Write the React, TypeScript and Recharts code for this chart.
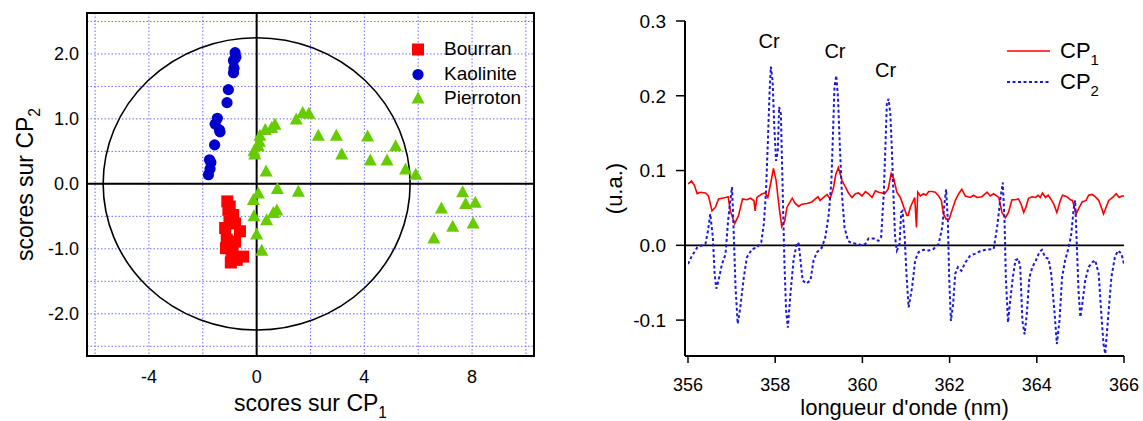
import React from 'react';
import {
  ScatterChart, Scatter, LineChart, Line, XAxis, YAxis, CartesianGrid,
  ReferenceLine, ReferenceArea, ReferenceDot, Legend,
} from 'recharts';

const FONT = 'Arial, "Liberation Sans", Helvetica, sans-serif';
const RED = '#ff0000';
const BLUE = '#0000cc';
const GREEN = '#66cc00';
const DASH_BLUE = '#1a1ad8';

// ---- scores plot (CP1 vs CP2) ----
const bourranCP1 = [-1.09, -1.05, -1.01, -0.80, -0.62, -1.11, -0.99, -0.80, -0.93, -0.50, -0.74, -0.96, -1.17, -1.14, -0.87, -1.00, -0.90];
const bourranCP2 = [-0.27, -0.40, -0.58, -0.61, -0.73, -0.86, -0.96, -0.89, -1.12, -1.12, -1.17, -1.21, -0.68, -0.99, -0.48, -0.35, -1.05];

const kaoliniteCP1 = [-0.80, -0.77, -0.86, -0.84, -0.86, -1.05, -1.10, -1.46, -1.54, -1.38, -1.36, -1.56, -1.75, -1.70, -1.73, -1.79];
const kaoliniteCP2 = [2.02, 1.95, 1.90, 1.78, 1.71, 1.45, 1.25, 1.01, 0.92, 0.83, 0.80, 0.60, 0.37, 0.33, 0.23, 0.14];

const pierrotonCP1 = [1.71, 1.94, 1.47, 0.68, 0.56, 0.32, 0.12, 0.10, 0.06, -0.10, -0.07, 2.29, 2.96, 4.12, 5.16, 3.16, 4.22, 4.84, 5.53, 5.91, 0.35, 0.77, 1.55, 0.06, -0.12, 0.75, 0.62, -0.10, 0.37, 0.00, 0.19, 7.65, 7.76, 8.12, 6.86, 7.28, 8.04, 6.58];
const pierrotonCP2 = [1.09, 1.08, 0.99, 0.91, 0.86, 0.83, 0.74, 0.65, 0.58, 0.50, 0.45, 0.74, 0.74, 0.73, 0.58, 0.45, 0.36, 0.36, 0.22, 0.14, 0.19, -0.08, -0.12, -0.15, -0.25, -0.41, -0.45, -0.50, -0.56, -0.78, -1.03, -0.13, -0.31, -0.29, -0.38, -0.66, -0.61, -0.84];

const scoreXDomain = [-6.3, 10.3];
const scoreYDomain = [-2.65, 2.63];
const scoreXTicks = [-4, 0, 4, 8];
const scoreYTicks = [-2, -1, 0, 1, 2];
const scoreGridX = [-6, -4, -2, 0, 2, 4, 6, 8, 10];
const scoreGridY = [-2.5, -2, -1.5, -1, -0.5, 0, 0.5, 1, 1.5, 2, 2.5];
const circleCP1 = 5.7;
const circleCP2 = 2.25;

// ---- loadings spectra ----
const cp1Wavelength = [
  356.00, 356.08, 356.15, 356.21, 356.28, 356.40, 356.47, 356.55, 356.63, 356.70, 356.78, 356.86, 356.92, 356.97,
  357.07, 357.16, 357.25, 357.35, 357.43, 357.51, 357.54, 357.58, 357.70, 357.77, 357.83, 357.91, 357.96, 358.02,
  358.09, 358.15, 358.22, 358.27, 358.39, 358.46, 358.54, 358.61, 358.73, 358.84, 358.92, 358.98, 359.03, 359.11,
  359.19, 359.26, 359.34, 359.39, 359.45, 359.53, 359.61, 359.68, 359.76, 359.84, 359.91, 359.99, 360.07, 360.14,
  360.22, 360.30, 360.37, 360.45, 360.51, 360.59, 360.66, 360.72, 360.79, 360.87, 360.95, 361.02, 361.05, 361.10,
  361.20, 361.24, 361.27, 361.33, 361.40, 361.46, 361.52, 361.60, 361.67, 361.75, 361.81, 361.86, 361.92, 361.99,
  362.05, 362.13, 362.21, 362.28, 362.36, 362.47, 362.55, 362.63, 362.74, 362.86, 362.93, 363.01, 363.13, 363.20,
  363.28, 363.35, 363.43, 363.51, 363.58, 363.64, 363.70, 363.75, 363.81, 363.89, 363.97, 364.03, 364.08, 364.13,
  364.20, 364.26, 364.31, 364.39, 364.46, 364.54, 364.59, 364.69, 364.77, 364.82, 364.90, 364.96, 365.04, 365.13,
  365.19, 365.27, 365.34, 365.42, 365.48, 365.53, 365.59, 365.65, 365.74, 365.82, 365.89, 365.95, 366.00,
];
const cp1Loading = [
  0.082, 0.086, 0.080, 0.069, 0.071, 0.070, 0.066, 0.046, 0.051, 0.062, 0.063, 0.064, 0.065, 0.046,
  0.029, 0.040, 0.062, 0.061, 0.063, 0.060, 0.046, 0.064, 0.069, 0.070, 0.064, 0.087, 0.103, 0.087,
  0.051, 0.025, 0.033, 0.051, 0.063, 0.056, 0.052, 0.055, 0.056, 0.058, 0.062, 0.065, 0.060, 0.064,
  0.068, 0.062, 0.078, 0.095, 0.104, 0.087, 0.078, 0.070, 0.064, 0.069, 0.070, 0.066, 0.072, 0.069,
  0.064, 0.073, 0.071, 0.070, 0.069, 0.075, 0.096, 0.089, 0.071, 0.064, 0.051, 0.040, 0.040, 0.051,
  0.064, 0.024, 0.071, 0.066, 0.069, 0.067, 0.072, 0.072, 0.071, 0.066, 0.060, 0.042, 0.035, 0.035,
  0.046, 0.060, 0.069, 0.075, 0.066, 0.064, 0.067, 0.064, 0.065, 0.071, 0.066, 0.069, 0.064, 0.044,
  0.037, 0.044, 0.061, 0.061, 0.062, 0.055, 0.044, 0.051, 0.063, 0.065, 0.064, 0.067, 0.064, 0.070,
  0.064, 0.067, 0.063, 0.055, 0.044, 0.060, 0.067, 0.065, 0.061, 0.060, 0.042, 0.049, 0.058, 0.060,
  0.067, 0.068, 0.065, 0.060, 0.051, 0.042, 0.051, 0.060, 0.064, 0.069, 0.064, 0.066, 0.066,
];

const cp2Wavelength = [
  356.00, 356.09, 356.21, 356.32, 356.40, 356.46, 356.51, 356.57, 356.61, 356.65, 356.70, 356.78, 356.86, 356.92,
  356.97, 357.01, 357.05, 357.09, 357.14, 357.20, 357.28, 357.35, 357.47, 357.58, 357.68, 357.74, 357.79, 357.83,
  357.87, 357.90, 357.94, 357.98, 358.02, 358.06, 358.09, 358.13, 358.17, 358.21, 358.25, 358.29, 358.35, 358.42,
  358.50, 358.54, 358.58, 358.63, 358.71, 358.81, 358.88, 358.96, 359.07, 359.15, 359.23, 359.29, 359.33, 359.36,
  359.40, 359.44, 359.48, 359.53, 359.59, 359.67, 359.76, 359.88, 359.99, 360.07, 360.14, 360.26, 360.37, 360.43,
  360.49, 360.53, 360.56, 360.60, 360.64, 360.68, 360.72, 360.75, 360.79, 360.85, 360.89, 360.92, 360.97, 361.01,
  361.06, 361.14, 361.21, 361.29, 361.40, 361.52, 361.63, 361.75, 361.83, 361.89, 361.92, 361.96, 361.99, 362.03,
  362.08, 362.13, 362.19, 362.27, 362.36, 362.47, 362.59, 362.70, 362.82, 363.01, 363.09, 363.16, 363.22, 363.26,
  363.29, 363.34, 363.39, 363.45, 363.51, 363.58, 363.62, 363.67, 363.72, 363.77, 363.83, 363.90, 363.98, 364.06,
  364.12, 364.19, 364.27, 364.33, 364.41, 364.46, 364.52, 364.58, 364.65, 364.73, 364.79, 364.85, 364.88, 364.92,
  364.96, 365.00, 365.04, 365.11, 365.19, 365.27, 365.34, 365.42, 365.48, 365.53, 365.57, 365.63, 365.71, 365.79,
  365.86, 365.94, 366.00,
];
const cp2Loading = [
  -0.025, -0.014, -0.003, 0.000, 0.002, 0.020, 0.042, 0.011, -0.038, -0.058, -0.047, -0.025, -0.012, 0.033,
  0.060, 0.078, 0.015, -0.056, -0.105, -0.083, -0.043, -0.016, -0.005, -0.003, 0.004, 0.029, 0.073, 0.136,
  0.203, 0.239, 0.220, 0.158, 0.113, 0.127, 0.185, 0.176, 0.078, -0.020, -0.087, -0.110, -0.065, -0.020,
  0.004, 0.002, -0.020, -0.047, -0.051, -0.047, -0.020, -0.009, -0.003, 0.011, 0.042, 0.087, 0.158, 0.212,
  0.227, 0.198, 0.136, 0.069, 0.024, 0.006, 0.003, 0.002, 0.000, 0.002, 0.009, 0.009, 0.006, 0.011,
  0.069, 0.136, 0.189, 0.196, 0.176, 0.122, 0.055, 0.011, -0.007, 0.000, 0.044, 0.046, 0.011, -0.038,
  -0.083, -0.056, -0.020, -0.009, -0.006, -0.007, -0.005, 0.002, 0.024, 0.060, 0.075, 0.033, -0.043, -0.101,
  -0.079, -0.038, -0.029, -0.034, -0.023, -0.014, -0.011, -0.008, -0.006, -0.005, 0.024, 0.060, 0.084, 0.033,
  -0.043, -0.103, -0.074, -0.043, -0.020, -0.018, -0.029, -0.101, -0.119, -0.092, -0.043, -0.029, -0.020, -0.009,
  -0.006, -0.016, -0.018, -0.038, -0.092, -0.132, -0.101, -0.043, -0.020, -0.003, 0.015, 0.051, 0.060, -0.003,
  -0.065, -0.096, -0.080, -0.047, -0.029, -0.023, -0.020, -0.038, -0.092, -0.132, -0.145, -0.101, -0.043, -0.016,
  -0.007, -0.011, -0.025,
];

const waveDomain = [356, 366];
const loadingDomain = [-0.148, 0.3];
const waveTicks = [356, 358, 360, 362, 364, 366];
const loadingTicks = [-0.1, 0, 0.1, 0.2, 0.3];
const crWavelength = [357.86, 359.37, 360.53];
const crLabelHeight = [0.274, 0.26, 0.235];

const zip = (xs: number[], ys: number[]) => xs.map((x, i) => ({ x, y: ys[i] }));

const bourranData = zip(bourranCP1, bourranCP2);
const kaoliniteData = zip(kaoliniteCP1, kaoliniteCP2);
const pierrotonData = zip(pierrotonCP1, pierrotonCP2);
const cp1Data = zip(cp1Wavelength, cp1Loading);
const cp2Data = zip(cp2Wavelength, cp2Loading);

const drawMarker = (name: string, cx: number, cy: number) => {
  if (name === 'Bourran') return <rect x={cx - 6} y={cy - 6} width={12} height={12} fill={RED} />;
  if (name === 'Kaolinite') return <circle cx={cx} cy={cy} r={5.6} fill={BLUE} />;
  return <polygon points={`${cx},${cy - 7} ${cx + 6.5},${cy + 5} ${cx - 6.5},${cy + 5}`} fill={GREEN} />;
};

const ScoresLegend = ({ payload }: any) => (
  <div style={{ fontFamily: FONT, fontSize: 19, color: '#000' }}>
    {(payload || []).map((entry: any) => (
      <div key={entry.value} style={{ display: 'flex', alignItems: 'center', height: 24.5 }}>
        <svg width={14} height={14} style={{ marginRight: 19 }}>{drawMarker(entry.value, 7, 7.5)}</svg>
        <span>{entry.value}</span>
      </div>
    ))}
  </div>
);

const LoadingsLegend = ({ payload }: any) => (
  <div style={{ fontFamily: FONT, fontSize: 22, color: '#000' }}>
    {(payload || []).map((entry: any) => (
      <div key={entry.value} style={{ display: 'flex', alignItems: 'center', height: 31 }}>
        <svg width={43} height={6} style={{ marginRight: 10 }}>
          <line x1={0} y1={3} x2={43} y2={3} stroke={entry.color}
            strokeWidth={entry.value === 'CP1' ? 1.6 : 2}
            strokeDasharray={entry.value === 'CP1' ? undefined : '3 2.5'} />
        </svg>
        <span>CP<span style={{ fontSize: 15, position: 'relative', top: 7 }}>{entry.value.slice(2)}</span></span>
      </div>
    ))}
  </div>
);

const subTitle = (main: string, sub: string, x: number, y: number, size: number, rotate: boolean) => (
  <text x={x} y={y} textAnchor="middle" fontSize={size} fill="#000" fontFamily={FONT}
    transform={rotate ? `rotate(-90, ${x}, ${y})` : undefined}>
    {main}
    <tspan fontSize={size * 0.68} dy={size * 0.3}>{sub}</tspan>
  </text>
);

export default function App() {
  return (
    <div style={{ position: 'absolute', left: 0, top: 0, width: 1143, height: 421, background: '#fff', fontFamily: FONT }}>
      <div style={{ position: 'absolute', left: 0, top: 0 }}>
        <ScatterChart width={560} height={421} margin={{ top: 13, right: 26, bottom: 0, left: 0 }}>
          <CartesianGrid stroke="#6a6aff" strokeDasharray="1.5 2" verticalValues={scoreGridX} horizontalValues={scoreGridY} />
          <XAxis type="number" dataKey="x" domain={scoreXDomain} ticks={scoreXTicks} allowDataOverflow
            axisLine={false} tickLine={false} tickMargin={8} height={65}
            tick={{ fontSize: 18, fill: '#000' }}
            label={(p: any) => {
              const vb = p.viewBox || { x: 87, y: 356, width: 447, height: 65 };
              return subTitle('scores sur CP', '1', vb.x + vb.width / 2, vb.y + 55, 23, false);
            }} />
          <YAxis type="number" dataKey="y" domain={scoreYDomain} ticks={scoreYTicks} allowDataOverflow
            axisLine={false} tickLine={false} width={87}
            tick={{ fontSize: 18, fill: '#000' }} tickFormatter={(v: number) => v.toFixed(1)}
            label={(p: any) => {
              const vb = p.viewBox || { x: 0, y: 13, width: 87, height: 343 };
              return subTitle('scores sur CP', '2', vb.x + 33, vb.y + vb.height / 2, 23, true);
            }} />
          <ReferenceArea x1={-circleCP1} x2={circleCP1} y1={-circleCP2} y2={circleCP2} ifOverflow="visible"
            shape={(p: any) => (
              <ellipse cx={p.x + p.width / 2} cy={p.y + p.height / 2} rx={p.width / 2} ry={p.height / 2}
                fill="none" stroke="#000" strokeWidth={1.6} />
            )} />
          <ReferenceLine x={0} stroke="#000" strokeWidth={2} />
          <ReferenceLine y={0} stroke="#000" strokeWidth={2} />
          <ReferenceArea x1={scoreXDomain[0]} x2={scoreXDomain[1]} y1={scoreYDomain[0]} y2={scoreYDomain[1]}
            ifOverflow="visible" fill="none" fillOpacity={0} stroke="#000" strokeWidth={2} />
          <Scatter name="Bourran" data={bourranData} fill={RED} isAnimationActive={false}
            shape={(p: any) => drawMarker('Bourran', p.cx, p.cy)} />
          <Scatter name="Kaolinite" data={kaoliniteData} fill={BLUE} isAnimationActive={false}
            shape={(p: any) => drawMarker('Kaolinite', p.cx, p.cy)} />
          <Scatter name="Pierroton" data={pierrotonData} fill={GREEN} isAnimationActive={false}
            shape={(p: any) => drawMarker('Pierroton', p.cx, p.cy)} />
          <Legend layout="vertical" align="center" verticalAlign="middle"
            wrapperStyle={{ left: 411, top: 37, width: 'auto' }} content={ScoresLegend} />
        </ScatterChart>
      </div>

      <div style={{ position: 'absolute', left: 560, top: 0 }}>
        <LineChart width={583} height={421} margin={{ top: 21, right: 19, bottom: 0, left: 0 }}>
          <XAxis type="number" dataKey="x" domain={waveDomain} ticks={waveTicks} allowDataOverflow
            padding={{ left: 3, right: 0 }} height={65}
            axisLine={{ stroke: '#000', strokeWidth: 2 }} tickLine={{ stroke: '#000', strokeWidth: 1.5 }}
            tickSize={7} tickMargin={15} tick={{ fontSize: 18, fill: '#000' }}
            label={(p: any) => {
              const vb = p.viewBox || { x: 125, y: 356, width: 439, height: 65 };
              return (
                <text x={vb.x + vb.width / 2} y={vb.y + 59} textAnchor="middle" fontSize={22} fill="#000" fontFamily={FONT}>
                  longueur d'onde (nm)
                </text>
              );
            }} />
          <YAxis type="number" domain={loadingDomain} ticks={loadingTicks} allowDataOverflow width={125}
            axisLine={{ stroke: '#000', strokeWidth: 2 }} tickLine={{ stroke: '#000', strokeWidth: 1.5 }}
            tickSize={9} tickMargin={10} tick={{ fontSize: 19, fill: '#000' }}
            tickFormatter={(v: number) => v.toFixed(1)}
            label={(p: any) => {
              const vb = p.viewBox || { x: 0, y: 21, width: 125, height: 335 };
              const cx = vb.x + 62;
              const cy = vb.y + vb.height / 2;
              return (
                <text x={cx} y={cy} textAnchor="middle" fontSize={22} fill="#000" fontFamily={FONT}
                  transform={`rotate(-90, ${cx}, ${cy})`}>
                  (u.a.)
                </text>
              );
            }} />
          <ReferenceLine y={0} stroke="#000" strokeWidth={1.6} />
          <Line name="CP1" data={cp1Data} dataKey="y" type="linear" stroke={RED} strokeWidth={1.6}
            dot={false} isAnimationActive={false} />
          <Line name="CP2" data={cp2Data} dataKey="y" type="linear" stroke={DASH_BLUE} strokeWidth={2}
            strokeDasharray="3 2.5" dot={false} isAnimationActive={false} />
          {crWavelength.map((w, i) => (
            <ReferenceDot key={w} x={w} y={crLabelHeight[i]} r={1} fill="none" stroke="none" ifOverflow="visible"
              label={{ value: 'Cr', position: 'center', fontSize: 20, fill: '#000' }} />
          ))}
          <Legend layout="vertical" align="center" verticalAlign="middle"
            wrapperStyle={{ left: 447, top: 35, width: 'auto' }} content={LoadingsLegend} />
        </LineChart>
      </div>
    </div>
  );
}
